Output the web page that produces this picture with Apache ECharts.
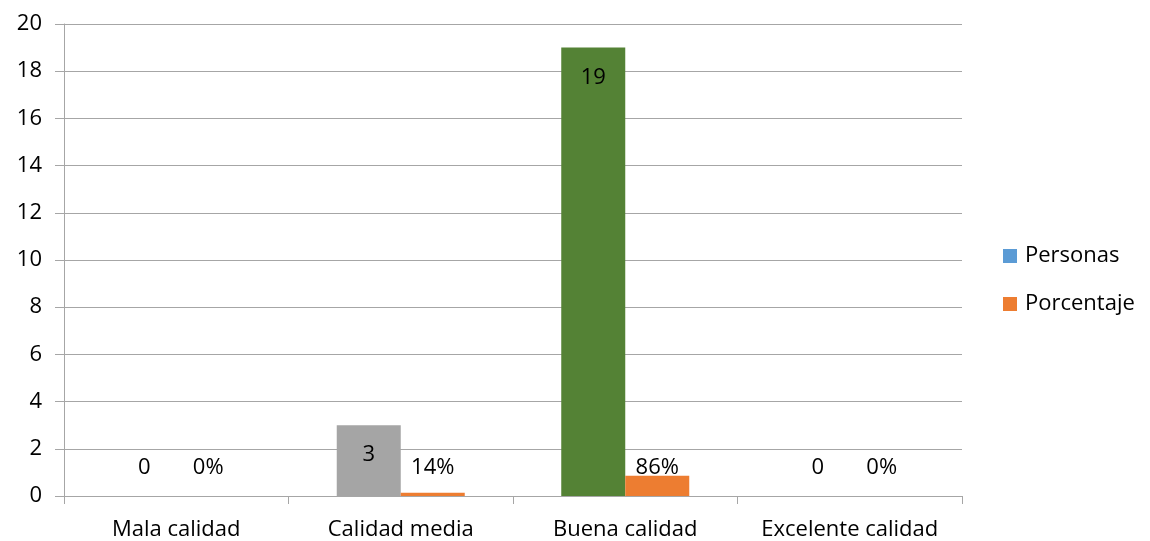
<!DOCTYPE html>
<html>
<head>
<meta charset="utf-8">
<script src="https://cdn.jsdelivr.net/npm/echarts@6/dist/echarts.min.js"></script>
<style>
  html, body { margin: 0; padding: 0; background: #fff; }
  #chart { width: 1150px; height: 541px; }
</style>
</head>
<body>
<div id="chart"></div>
<script>
// Survey results: number of people and share per quality rating
const categories = ['Mala calidad', 'Calidad media', 'Buena calidad', 'Excelente calidad'];
const personas = [0, 3, 19, 0];
const porcentaje = [0, 0.14, 0.86, 0];
const yTicks = [0, 2, 4, 6, 8, 10, 12, 14, 16, 18, 20];

const FONT = '"Open Sans", "Liberation Sans", sans-serif';
const FS = 22;
const personasColors = ['#5B9BD5', '#A5A5A5', '#548235', '#5B9BD5'];

const labelBase = { show: true, color: '#000', fontSize: FS, fontFamily: FONT };

const personasData = personas.map((v, i) => ({
  value: v,
  itemStyle: { color: personasColors[i] },
  label: v === 0
    ? { position: 'insideBottom', distance: 17 }
    : { position: 'insideTop', distance: 19 }
}));

const porcentajeData = porcentaje.map(v => ({ value: v }));

const chart = echarts.init(document.getElementById('chart'));
chart.setOption({
  animation: false,
  textStyle: { fontFamily: FONT },
  grid: { left: 64, right: 188, top: 24, bottom: 45, containLabel: false },
  legend: {
    orient: 'vertical',
    left: 1003,
    top: 245,
    padding: 0,
    itemWidth: 14,
    itemHeight: 14,
    itemGap: 26,
    icon: 'rect',
    textStyle: { fontSize: FS, color: '#000', fontFamily: FONT, padding: [0, 0, 0, 3] },
    data: [
      { name: 'Personas', itemStyle: { color: '#5B9BD5' } },
      { name: 'Porcentaje', itemStyle: { color: '#ED7D31' } }
    ]
  },
  xAxis: {
    type: 'category',
    data: categories,
    axisLine: { lineStyle: { color: '#A6A6A6', width: 1 } },
    axisTick: { show: true, length: 8, interval: 0, lineStyle: { color: '#A6A6A6' } },
    axisLabel: { color: '#000', fontSize: FS, fontFamily: FONT, margin: 23, interval: 0 }
  },
  yAxis: {
    type: 'value',
    min: yTicks[0],
    max: yTicks[yTicks.length - 1],
    interval: 2,
    axisLine: { show: true, lineStyle: { color: '#A6A6A6', width: 1 } },
    axisTick: { show: true, length: 9, lineStyle: { color: '#A6A6A6' } },
    axisLabel: { color: '#000', fontSize: FS, fontFamily: FONT, margin: 22 },
    splitLine: { lineStyle: { color: '#A6A6A6', width: 1 } }
  },
  series: [
    {
      name: 'Personas',
      type: 'bar',
      color: '#5B9BD5',
      barWidth: 64,
      barGap: '0%',
      data: personasData,
      label: Object.assign({}, labelBase, { formatter: p => String(p.value) })
    },
    {
      name: 'Porcentaje',
      type: 'bar',
      color: '#ED7D31',
      barWidth: 64,
      barGap: '0%',
      data: porcentajeData,
      label: Object.assign({}, labelBase, {
        position: 'insideBottom',
        distance: 17,
        formatter: p => Math.round(p.value * 100) + '%'
      })
    }
  ]
});
</script>
</body>
</html>
